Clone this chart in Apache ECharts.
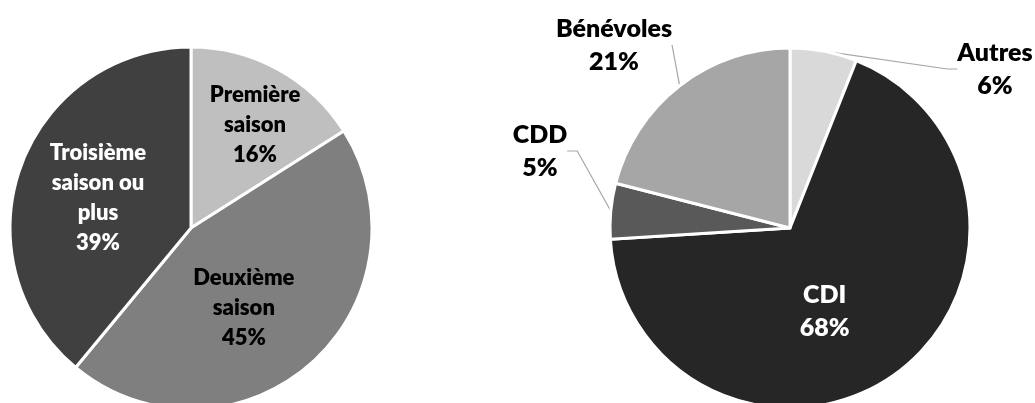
<!DOCTYPE html>
<html>
<head>
<meta charset="utf-8">
<script src="https://cdn.jsdelivr.net/npm/echarts@6/dist/echarts.min.js"></script>
<style>
  html, body { margin: 0; padding: 0; background: #ffffff; }
  #chart { width: 1035px; height: 403px; }
</style>
</head>
<body>
<div id="chart"></div>
<script>
// ---- Data ----
const seasonCategories = ['Première saison', 'Deuxième saison', 'Troisième saison ou plus'];
const seasonLabels = ['Première\nsaison', 'Deuxième\nsaison', 'Troisième\nsaison ou\nplus'];
const seasonValues = [16, 45, 39];

const contractCategories = ['Autres', 'CDI', 'CDD', 'Bénévoles'];
const contractLabels = ['Autres', 'CDI', 'CDD', 'Bénévoles'];
const contractValues = [6, 68, 5, 21];

// ---- Styles ----
const seasonColors = ['#BFBFBF', '#7F7F7F', '#404040'];
const seasonTextColors = ['#000000', '#000000', '#ffffff'];
const contractColors = ['#D9D9D9', '#262626', '#595959', '#A6A6A6'];
const contractTextColors = ['#000000', '#ffffff', '#000000', '#000000'];

const FONT = 'Lato, "Open Sans", sans-serif';
const LEFT_CENTER = [191, 228];
const RIGHT_CENTER = [790, 228];
const RADIUS = 181;

// label adjustments (inside labels: offsets; outside labels: offset from pie centre)
const seasonLabelShift = [[19, -21], [-9, 10], [-5, 2]];
const contractLabelPlace = [
  { dx: 205, dy: -159 },   // Autres (outside, relative to centre)
  { shiftX: -20, shiftY: 8 }, // CDI (inside shift)
  { dx: -250, dy: -77 },   // CDD
  { dx: -176, dy: -183 }   // Bénévoles
];

const chart = echarts.init(document.getElementById('chart'), null, { renderer: 'canvas' });

const seasonData = seasonCategories.map((name, i) => ({
  name: name,
  value: seasonValues[i],
  itemStyle: { color: seasonColors[i] },
  label: { color: seasonTextColors[i] }
}));

const contractData = contractCategories.map((name, i) => ({
  name: name,
  value: contractValues[i],
  itemStyle: { color: contractColors[i] },
  label: {
    color: contractTextColors[i],
    position: i === 1 ? 'inside' : 'outside'
  },
  labelLine: { show: i !== 1, length2: i === 3 ? 0 : 10 }
}));

chart.setOption({
  animation: false,
  backgroundColor: '#ffffff',
  series: [
    {
      type: 'pie',
      center: LEFT_CENTER,
      radius: RADIUS,
      startAngle: 90,
      clockwise: true,
      data: seasonData,
      itemStyle: { borderColor: '#ffffff', borderWidth: 3 },
      label: {
        show: true,
        position: 'inside',
        fontFamily: FONT,
        fontWeight: 800,
        fontSize: 22,
        lineHeight: 30,
        align: 'center',
        formatter: p => seasonLabels[p.dataIndex] + '\n' + p.value + '%'
      },
      labelLayout: p => ({ dx: seasonLabelShift[p.dataIndex][0], dy: seasonLabelShift[p.dataIndex][1] }),
      emphasis: { disabled: true }
    },
    {
      type: 'pie',
      center: RIGHT_CENTER,
      radius: RADIUS - 1,
      startAngle: 90,
      clockwise: true,
      data: contractData,
      itemStyle: { borderColor: '#ffffff', borderWidth: 3 },
      label: {
        show: true,
        fontFamily: FONT,
        fontWeight: 800,
        fontSize: 25,
        lineHeight: 33,
        align: 'center',
        formatter: p => contractLabels[p.dataIndex] + '\n' + p.value + '%'
      },
      labelLine: { lineStyle: { color: '#A6A6A6', width: 1.2 } },
      labelLayout: p => {
        const c = contractLabelPlace[p.dataIndex];
        if (c.shiftX !== undefined) return { dx: c.shiftX, dy: c.shiftY };
        return { x: RIGHT_CENTER[0] + c.dx, y: RIGHT_CENTER[1] + c.dy, align: 'center', verticalAlign: 'middle' };
      },
      emphasis: { disabled: true }
    }
  ]
});
</script>
</body>
</html>
